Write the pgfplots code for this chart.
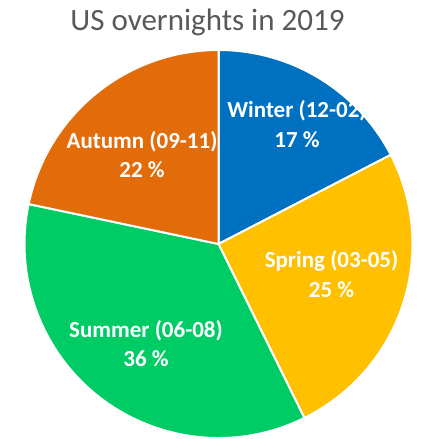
\documentclass[border=0pt]{standalone}
\usepackage{pgfplots}
\pgfplotsset{compat=1.18}
\usepackage{fontspec}
\setmainfont{Carlito}
\definecolor{cwinter}{HTML}{0070C0}
\definecolor{cspring}{HTML}{FFC000}
\definecolor{csummer}{HTML}{00CC66}
\definecolor{cautumn}{HTML}{E36C0A}
\definecolor{ctitle}{HTML}{595959}
\begin{document}
\begin{tikzpicture}
\begin{axis}[
  scale only axis, width=423pt, height=439pt,
  xmin=0, xmax=423, ymin=0, ymax=439,
  hide axis, clip=false,
]
% pie: center in axis units (1 unit = 1pt), radius 194
\def\cx{218.5}\def\cy{195}\def\r{194pt}
% shares in percent (shown rounded: 17, 25, 36, 22), clockwise from 12 o'clock
\def\vW{17.4}\def\vSp{25.3}\def\vSu{35.6}\def\vA{21.7}
\pgfmathsetmacro{\aA}{90}
\pgfmathsetmacro{\aB}{\aA-\vW*3.6}
\pgfmathsetmacro{\aC}{\aB-\vSp*3.6}
\pgfmathsetmacro{\aD}{\aC-\vSu*3.6}
\pgfmathsetmacro{\aE}{\aD-\vA*3.6}
\coordinate (bl) at (axis cs:0,0);
\coordinate (tr) at (axis cs:423,439);
\filldraw[fill=cwinter, draw=white, line width=2pt, line join=round]
  (axis cs:\cx,\cy) -- ++(\aA:\r) arc[start angle=\aA, end angle=\aB, radius=\r] -- cycle;
\filldraw[fill=cspring, draw=white, line width=2pt, line join=round]
  (axis cs:\cx,\cy) -- ++(\aB:\r) arc[start angle=\aB, end angle=\aC, radius=\r] -- cycle;
\filldraw[fill=csummer, draw=white, line width=2pt, line join=round]
  (axis cs:\cx,\cy) -- ++(\aC:\r) arc[start angle=\aC, end angle=\aD, radius=\r] -- cycle;
\filldraw[fill=cautumn, draw=white, line width=2pt, line join=round]
  (axis cs:\cx,\cy) -- ++(\aD:\r) arc[start angle=\aD, end angle=\aE, radius=\r] -- cycle;
% title
\node[anchor=base, text=ctitle, font=\fontsize{31}{36}\selectfont] at (axis cs:207.5,408.3) {US overnights in 2019};
% labels
\tikzset{lab/.style={anchor=base, text=white, font=\fontsize{23}{27}\selectfont\bfseries}}
\node[lab] at (axis cs:297,321.3) {Winter (12-02)};
\node[lab] at (axis cs:297,291.3) {17 \%};
\node[lab] at (axis cs:142,290.7) {Autumn (09-11)};
\node[lab] at (axis cs:142,261.3) {22 \%};
\node[lab] at (axis cs:331.5,171.3) {Spring (03-05)};
\node[lab] at (axis cs:331.5,141.3) {25 \%};
\node[lab] at (axis cs:146,101.3) {Summer (06-08)};
\node[lab] at (axis cs:146,72.3) {36 \%};
\end{axis}
\pgfresetboundingbox
\useasboundingbox (bl) rectangle (tr);
\end{tikzpicture}
\end{document}
